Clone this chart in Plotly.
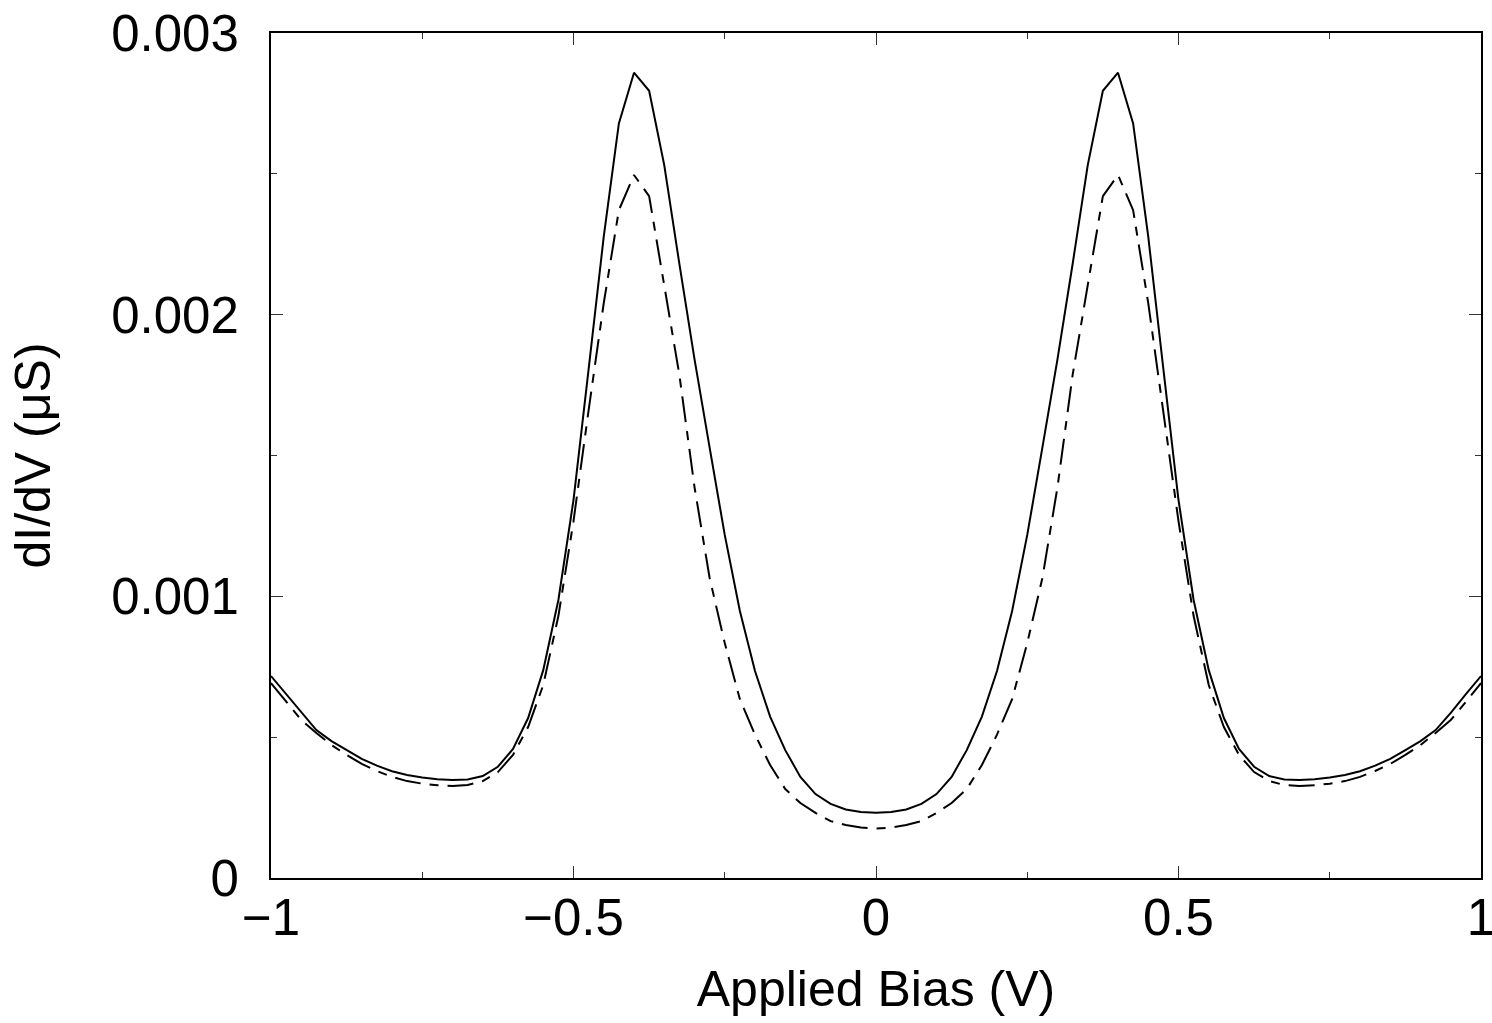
import plotly.graph_objects as go

bias = [-1.000, -0.975, -0.950, -0.925, -0.900, -0.875, -0.850, -0.825, -0.800, -0.775,
        -0.750, -0.725, -0.700, -0.675, -0.650, -0.625, -0.600, -0.575, -0.550, -0.525,
        -0.500, -0.475, -0.450, -0.425, -0.400, -0.375, -0.350, -0.325, -0.300, -0.275,
        -0.250, -0.225, -0.200, -0.175, -0.150, -0.125, -0.100, -0.075, -0.050, -0.025,
        0.000,
        0.025, 0.050, 0.075, 0.100, 0.125, 0.150, 0.175, 0.200, 0.225, 0.250,
        0.275, 0.300, 0.325, 0.350, 0.375, 0.400, 0.425, 0.450, 0.475, 0.500,
        0.525, 0.550, 0.575, 0.600, 0.625, 0.650, 0.675, 0.700, 0.725, 0.750,
        0.775, 0.800, 0.825, 0.850, 0.875, 0.900, 0.925, 0.950, 0.975, 1.000]

didv_solid = [0.000717, 0.000653, 0.000586, 0.000525, 0.000486, 0.000454, 0.000423, 0.000399, 0.000379, 0.000366,
              0.000357, 0.000351, 0.000348, 0.000350, 0.000362, 0.000395, 0.000458, 0.000568, 0.000738, 0.000987,
              0.001342, 0.001807, 0.002277, 0.002679, 0.002859, 0.002795, 0.002531, 0.002180, 0.001842, 0.001528,
              0.001218, 0.000948, 0.000735, 0.000573, 0.000454, 0.000359, 0.000298, 0.000263, 0.000243, 0.000234,
              0.000232,
              0.000234, 0.000243, 0.000263, 0.000298, 0.000359, 0.000454, 0.000573, 0.000735, 0.000948, 0.001218,
              0.001528, 0.001842, 0.002180, 0.002531, 0.002795, 0.002859, 0.002679, 0.002277, 0.001807, 0.001342,
              0.000987, 0.000738, 0.000568, 0.000458, 0.000395, 0.000362, 0.000350, 0.000348, 0.000351, 0.000357,
              0.000366, 0.000379, 0.000399, 0.000423, 0.000454, 0.000486, 0.000525, 0.000586, 0.000653, 0.000717]

didv_dashed = [0.000692, 0.000625, 0.000561, 0.000515, 0.000472, 0.000437, 0.000405, 0.000380, 0.000359, 0.000344,
               0.000335, 0.000329, 0.000327, 0.000330, 0.000344, 0.000376, 0.000437, 0.000536, 0.000685, 0.000930,
               0.001267, 0.001661, 0.002041, 0.002371, 0.002496, 0.002421, 0.002105, 0.001786, 0.001388, 0.001065,
               0.000834, 0.000635, 0.000509, 0.000401, 0.000316, 0.000266, 0.000231, 0.000202, 0.000188, 0.000179,
               0.000176,
               0.000179, 0.000188, 0.000202, 0.000231, 0.000266, 0.000316, 0.000401, 0.000509, 0.000635, 0.000834,
               0.001065, 0.001388, 0.001786, 0.002105, 0.002421, 0.002496, 0.002371, 0.002041, 0.001661, 0.001267,
               0.000930, 0.000685, 0.000536, 0.000437, 0.000376, 0.000344, 0.000330, 0.000327, 0.000329, 0.000335,
               0.000344, 0.000359, 0.000380, 0.000405, 0.000437, 0.000472, 0.000515, 0.000561, 0.000625, 0.000692]

x_tickvals = [-1, -0.5, 0, 0.5, 1]
x_ticktext = ["\u22121", "\u22120.5", "0", "0.5", "1"]
y_tickvals = [0, 0.001, 0.002, 0.003]
y_ticktext = ["0", "0.001", "0.002", "0.003"]

FONT = "Liberation Sans, Arial, sans-serif"
FS = 51

fig = go.Figure()
fig.add_trace(go.Scatter(x=bias, y=didv_solid, mode="lines",
                         line=dict(color="black", width=2), showlegend=False))
fig.add_trace(go.Scatter(x=bias, y=didv_dashed, mode="lines",
                         line=dict(color="black", width=2, dash="26px,9px,9px,9px"),
                         showlegend=False))

axis_common = dict(
    showline=True, linecolor="black", linewidth=2, mirror="allticks",
    ticks="inside", ticklen=12, tickwidth=1, tickcolor="#333",
    showgrid=False, zeroline=False, automargin=False,
    ticklabeloverflow="allow",
    tickfont=dict(family=FONT, size=FS, color="black"),
)

fig.update_xaxes(
    range=[-1, 1], tickvals=x_tickvals, ticktext=x_ticktext,
    minor=dict(ticks="inside", ticklen=6, tickwidth=1, tickcolor="#333", dtick=0.25, tick0=0),
    title=dict(text="Applied Bias (V)", font=dict(family=FONT, size=FS - 1, color="black"), standoff=26),
    ticklabelstandoff=-6,
    **axis_common,
)
fig.update_yaxes(
    range=[0, 0.003], tickvals=y_tickvals, ticktext=y_ticktext,
    minor=dict(ticks="inside", ticklen=6, tickwidth=1, tickcolor="#333", dtick=0.0005, tick0=0),
    title=dict(text="dI/dV (μS)", font=dict(family=FONT, size=FS - 1, color="black"), standoff=45),
    ticklabelstandoff=20,
    **axis_common,
)

fig.update_layout(
    width=1492, height=1023,
    margin=dict(l=271, r=11, t=33, b=145),
    plot_bgcolor="white", paper_bgcolor="white",
    font=dict(family=FONT, color="black"),
)

fig.write_html("out.html",
               config={"displayModeBar": False},
               post_script="document.body.style.margin='0px';document.body.style.overflow='hidden';")
